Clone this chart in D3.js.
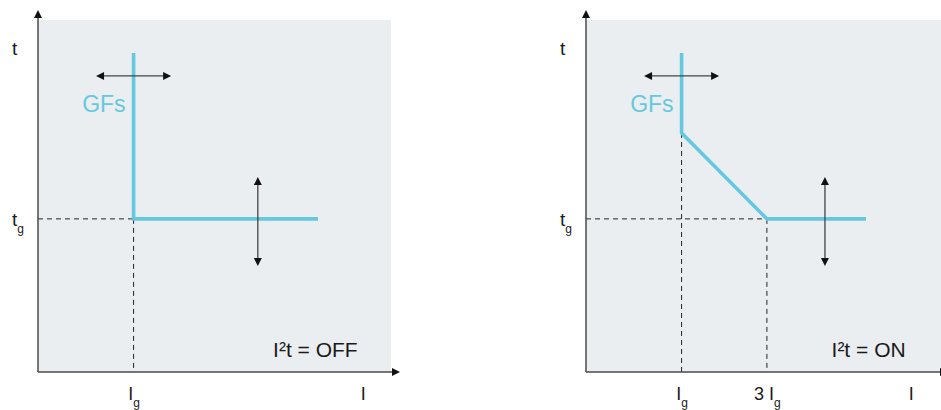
<!DOCTYPE html>
<html><head>
<meta charset="utf-8">
<script src="https://d3js.org/d3.v7.min.js"></script>
<style>
body { margin: 0; background: #fff; }
svg text { font-family: "Liberation Sans", Arial, sans-serif; fill: #1a1a1a; }
</style>
</head>
<body>
<svg id="chart" width="941" height="410"></svg>
<script>
// chart values (arbitrary units, axes go 0..10)
const panelModes = ["OFF", "ON"];
const curveOff = [[2.7, 9.06], [2.7, 4.35], [7.91, 4.35]];
const curveOn = [[2.7, 9.06], [2.7, 6.79], [5.11, 4.35], [7.91, 4.35]];
const tgValue = 4.35;
const dropsOff = [2.7];
const dropsOn = [2.7, 5.11];
const tickLabelsOff = [{ x: 2.7, pre: "I", sub: "g" }];
const tickLabelsOn = [{ x: 2.7, pre: "I", sub: "g" }, { x: 5.11, pre: "3 I", sub: "g" }];
const hArrow = [1.64, 3.76, 8.41];        // x from, x to, y
const vArrowOff = [6.21, 5.54, 3.01];     // x, y from, y to
const vArrowOn = [6.75, 5.54, 3.01];

const panels = [
    { x0: 38, mode: panelModes[0], curve: curveOff, drops: dropsOff, ticks: tickLabelsOff, vArrow: vArrowOff, bgW: 353 },
    { x0: 586, mode: panelModes[1], curve: curveOn, drops: dropsOn, ticks: tickLabelsOn, vArrow: vArrowOn, bgW: 360 }
];

const svg = d3.select("#chart");
const plotW = 354, plotTop = 20, plotBottom = 372;
const cyan = "#64c8de";
const axisCol = "#4a4a4a";

function tri(g, x, y, dir) {
    // small filled arrowhead, tip at x,y
    const L = 8, W = 4;
    let pts;
    if (dir === "r") pts = [[x, y], [x - L, y - W], [x - L, y + W]];
    if (dir === "l") pts = [[x, y], [x + L, y - W], [x + L, y + W]];
    if (dir === "u") pts = [[x, y], [x - W, y + L], [x + W, y + L]];
    if (dir === "d") pts = [[x, y], [x - W, y - L], [x + W, y - L]];
    g.append("path").attr("d", "M" + pts.join("L") + "Z").attr("fill", "#111");
}

panels.forEach(p => {
    const x = d3.scaleLinear().domain([0, 10]).range([p.x0, p.x0 + plotW]);
    const y = d3.scaleLinear().domain([0, 10]).range([plotBottom, plotTop]);
    const g = svg.append("g");

    // background
    g.append("rect").attr("x", p.x0).attr("y", plotTop)
        .attr("width", p.bgW).attr("height", plotBottom - plotTop)
        .attr("fill", "#ebeef1");

    // dashed guide lines
    g.append("line").attr("x1", x(0)).attr("x2", x(d3.max(p.drops)))
        .attr("y1", y(tgValue)).attr("y2", y(tgValue))
        .attr("stroke", "#222").attr("stroke-width", 1).attr("stroke-dasharray", "5,4");
    g.selectAll("line.drop").data(p.drops).join("line")
        .attr("class", "drop")
        .attr("x1", d => x(d)).attr("x2", d => x(d))
        .attr("y1", d => y(p.curve.filter(c => c[0] === d).pop()[1]))
        .attr("y2", plotBottom)
        .attr("stroke", "#222").attr("stroke-width", 1).attr("stroke-dasharray", "5,4");

    // axes
    g.append("line").attr("x1", p.x0).attr("x2", p.x0).attr("y1", plotBottom).attr("y2", 14)
        .attr("stroke", axisCol).attr("stroke-width", 1.5);
    tri(g, p.x0, 10, "u");
    g.append("line").attr("x1", p.x0).attr("x2", p.x0 + 358).attr("y1", plotBottom).attr("y2", plotBottom)
        .attr("stroke", axisCol).attr("stroke-width", 1.5);
    tri(g, p.x0 + 362, plotBottom, "r");

    // curve
    g.append("path").datum(p.curve)
        .attr("d", d3.line().x(d => x(d[0])).y(d => y(d[1])))
        .attr("fill", "none").attr("stroke", cyan).attr("stroke-width", 3.6)
        .attr("stroke-linejoin", "miter");

    // adjustment arrows
    g.append("line").attr("x1", x(hArrow[0]) + 4).attr("x2", x(hArrow[1]) - 4)
        .attr("y1", y(hArrow[2])).attr("y2", y(hArrow[2]))
        .attr("stroke", "#444").attr("stroke-width", 1.3);
    tri(g, x(hArrow[0]), y(hArrow[2]), "l");
    tri(g, x(hArrow[1]), y(hArrow[2]), "r");
    g.append("line").attr("x1", x(p.vArrow[0])).attr("x2", x(p.vArrow[0]))
        .attr("y1", y(p.vArrow[1]) + 4).attr("y2", y(p.vArrow[2]) - 4)
        .attr("stroke", "#444").attr("stroke-width", 1.3);
    tri(g, x(p.vArrow[0]), y(p.vArrow[1]), "u");
    tri(g, x(p.vArrow[0]), y(p.vArrow[2]), "d");

    // GFs label
    g.append("text").attr("x", x(p.curve[0][0]) - 8).attr("y", 112)
        .attr("text-anchor", "end").style("font-size", "23px").style("fill", cyan)
        .text("GFs");

    // axis labels
    g.append("text").attr("x", p.x0 - 26).attr("y", 55).style("font-size", "19px").text("t");
    const tg = g.append("text").attr("x", p.x0 - 26).attr("y", 226).style("font-size", "19px");
    tg.append("tspan").text("t");
    tg.append("tspan").attr("dy", 7).style("font-size", "12px").text("g");

    // tick labels, centred on their dashed line
    p.ticks.forEach(t => {
        const lab = g.append("text").attr("x", x(t.x) + 0.5).attr("y", 400)
            .attr("text-anchor", "middle").style("font-size", "18px");
        lab.append("tspan").text(t.pre);
        lab.append("tspan").attr("dy", 7).style("font-size", "12px").text(t.sub);
    });
    g.append("text").attr("x", x(9.12)).attr("y", 400).style("font-size", "18px").text("I");

    // I²t mode
    g.append("text").attr("x", x(9.03)).attr("y", 357).attr("text-anchor", "end")
        .style("font-size", "21px")
        .text("I²t = " + p.mode);
});
</script>
</body>
</html>
